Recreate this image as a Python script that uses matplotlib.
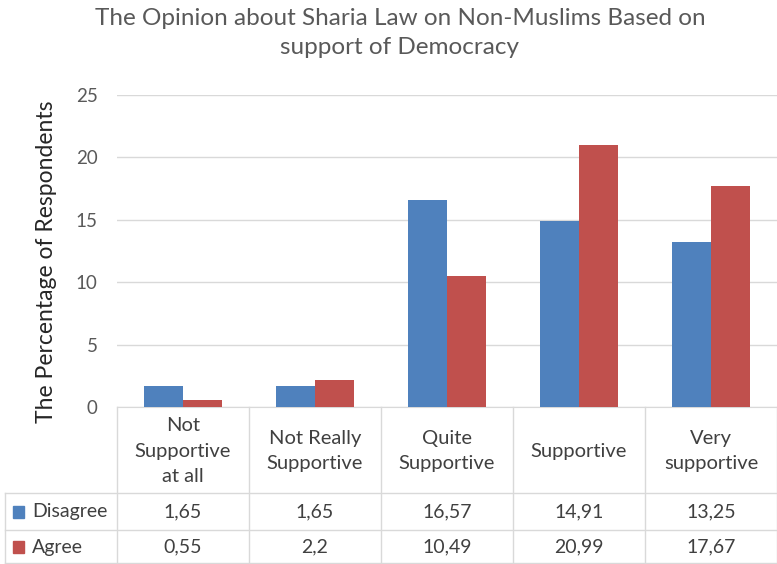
import numpy as np
import matplotlib
matplotlib.use('Agg')
import matplotlib.pyplot as plt
from matplotlib.lines import Line2D
from matplotlib.patches import Rectangle

plt.rcParams['font.family'] = ['Lato', 'DejaVu Sans']

categories = ['Not\nSupportive\nat all', 'Not Really\nSupportive', 'Quite\nSupportive',
              'Supportive', 'Very\nsupportive']
series_names = ['Disagree', 'Agree']
disagree = [1.65, 1.65, 16.57, 14.91, 13.25]
agree = [0.55, 2.2, 10.49, 20.99, 17.67]
colors = ['#4f81bd', '#c0504d']
yticks = [0, 5, 10, 15, 20, 25]

W, H = 777, 564
fig = plt.figure(figsize=(W / 100, H / 100), dpi=100)

def fx(px):
    return px / W

def fy(py):
    return 1 - py / H

ax_l, ax_r, ax_t, ax_b = 117, 777, 95, 407
ax = fig.add_axes([fx(ax_l), fy(ax_b), fx(ax_r - ax_l), fy(ax_t) - fy(ax_b)])

n = len(categories)
x = np.arange(n)
bw = 0.295
ax.bar(x - bw / 2, disagree, bw, color=colors[0], zorder=3)
ax.bar(x + bw / 2, agree, bw, color=colors[1], zorder=3)

ax.set_xlim(-0.5, n - 0.5)
ax.set_ylim(0, 25)
ax.set_yticks(yticks)
ax.set_yticklabels([str(t) for t in yticks], fontsize=13.5, color='#595959')
ax.tick_params(axis='y', length=0, pad=14)
ax.set_xticks([])
ax.grid(axis='y', color='#d9d9d9', linewidth=1, zorder=0)
for s in ['top', 'right', 'left']:
    ax.spines[s].set_visible(False)
ax.spines['bottom'].set_color('#d9d9d9')
ax.set_ylabel('The Percentage of Respondents', fontsize=16.5, color='#262626')
ax.yaxis.set_label_coords(fx(57 - ax_l) / fx(ax_r - ax_l), (fy(262) - fy(ax_b)) / (fy(ax_t) - fy(ax_b)))

fig.text(fx(400), fy(33), 'The Opinion about Sharia Law on Non-Muslims Based on\nsupport of Democracy',
         ha='center', va='center', fontsize=17.5, color='#595959', linespacing=1.5)

# data table below the axes
col_w = (ax_r - ax_l) / n
row1, row2, row3 = 493, 530, 564
line_kw = dict(color='#d9d9d9', linewidth=1, transform=fig.transFigure)
for i in range(n + 1):
    xp = ax_l + i * col_w
    fig.add_artist(Line2D([fx(xp), fx(xp)], [fy(ax_b), fy(row3)], **line_kw))
fig.add_artist(Line2D([fx(5), fx(5)], [fy(row1), fy(row3)], **line_kw))
for yp in [row1, row2, row3 - 1]:
    fig.add_artist(Line2D([fx(5), fx(ax_r)], [fy(yp), fy(yp)], **line_kw))

for i, cat in enumerate(categories):
    xc = ax_l + (i + 0.5) * col_w
    fig.text(fx(xc), fy((ax_b + row1) / 2 + 1), cat, ha='center', va='center',
             fontsize=14.5, color='#404040', linespacing=1.6)

rows = [(disagree, row1, row2), (agree, row2, row3)]
for k, (vals, top, bot) in enumerate(rows):
    yc = (top + bot) / 2
    fig.add_artist(Rectangle((fx(13), fy(yc + 6)), fx(11), fy(0) - fy(12),
                             transform=fig.transFigure, color=colors[k]))
    fig.text(fx(32), fy(yc), series_names[k], ha='left', va='center',
             fontsize=14, color='#404040')
    for i, v in enumerate(vals):
        xc = ax_l + (i + 0.5) * col_w
        fig.text(fx(xc), fy(yc), f'{v:g}'.replace('.', ','), ha='center', va='center',
                 fontsize=14, color='#404040')

fig.savefig('out.png', dpi=100)
